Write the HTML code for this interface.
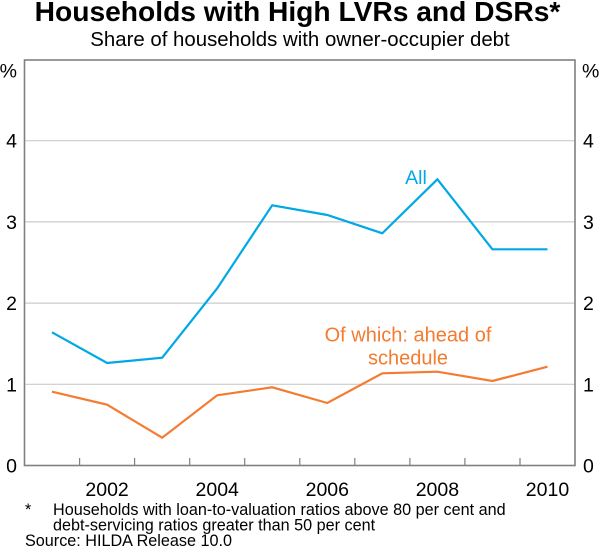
<!DOCTYPE html>
<html>
<head>
<meta charset="utf-8">
<style>
  html, body { margin: 0; padding: 0; background: #ffffff; }
  svg { display: block; }
  text { font-family: "Liberation Sans", Arial, sans-serif; fill: #000; }
</style>
</head>
<body>
<svg width="600" height="555" viewBox="0 0 600 555" xmlns="http://www.w3.org/2000/svg">
  <!-- Title -->
  <text x="297.5" y="21" font-size="28.2" font-weight="bold" text-anchor="middle">Households with High LVRs and DSRs*</text>
  <text x="300" y="46" font-size="20.4" text-anchor="middle">Share of households with owner-occupier debt</text>

  <!-- Gridlines -->
  <g stroke="#cccccc" stroke-width="1.2">
    <line x1="24.5" y1="384.3" x2="575" y2="384.3"/>
    <line x1="24.5" y1="303.1" x2="575" y2="303.1"/>
    <line x1="24.5" y1="221.9" x2="575" y2="221.9"/>
    <line x1="24.5" y1="140.7" x2="575" y2="140.7"/>
  </g>

  <!-- Ticks at year boundaries -->
  <g stroke="#808080" stroke-width="1.2">
    <line x1="79.6" y1="465.5" x2="79.6" y2="458"/>
    <line x1="134.6" y1="465.5" x2="134.6" y2="458"/>
    <line x1="189.7" y1="465.5" x2="189.7" y2="458"/>
    <line x1="244.7" y1="465.5" x2="244.7" y2="458"/>
    <line x1="299.8" y1="465.5" x2="299.8" y2="458"/>
    <line x1="354.8" y1="465.5" x2="354.8" y2="458"/>
    <line x1="409.9" y1="465.5" x2="409.9" y2="458"/>
    <line x1="464.9" y1="465.5" x2="464.9" y2="458"/>
    <line x1="520.0" y1="465.5" x2="520.0" y2="458"/>
  </g>

  <!-- Plot frame -->
  <rect x="24.5" y="60" width="550.5" height="405.5" fill="none" stroke="#808080" stroke-width="1.6"/>

  <!-- Series: All -->
  <polyline fill="none" stroke="#00a8e6" stroke-width="2.2" stroke-linejoin="miter"
    points="52.0,332.3 107.1,363 162.2,357.7 217.2,288.3 272.2,205.3 327.3,215 382.3,233.3 437.4,179.3 492.4,249.3 547.5,249.3"/>

  <!-- Series: Of which ahead of schedule -->
  <polyline fill="none" stroke="#f47b2f" stroke-width="2.2" stroke-linejoin="miter"
    points="52.0,391.7 107.1,404.7 162.2,437.7 217.2,395.3 272.2,387.3 327.3,403 382.3,373.3 437.4,371.7 492.4,381 547.5,366.7"/>

  <!-- Series labels -->
  <text x="416" y="184" font-size="19.5" text-anchor="middle" style="fill:#00a8e6">All</text>
  <text x="408" y="341.7" font-size="20" text-anchor="middle" style="fill:#f47b2f">Of which: ahead of</text>
  <text x="408" y="364.3" font-size="20" text-anchor="middle" style="fill:#f47b2f">schedule</text>

  <!-- Left axis labels -->
  <g font-size="19.5" text-anchor="end">
    <text x="17" y="77.5">%</text>
    <text x="17" y="147.7">4</text>
    <text x="17" y="228.9">3</text>
    <text x="17" y="310.1">2</text>
    <text x="17" y="391.3">1</text>
    <text x="17" y="472.5">0</text>
  </g>

  <!-- Right axis labels -->
  <g font-size="19.5" text-anchor="start">
    <text x="582" y="77.5">%</text>
    <text x="583" y="147.7">4</text>
    <text x="583" y="228.9">3</text>
    <text x="583" y="310.1">2</text>
    <text x="583" y="391.3">1</text>
    <text x="583" y="472.5">0</text>
  </g>

  <!-- X axis labels -->
  <g font-size="19.5" text-anchor="middle">
    <text x="107.1" y="496">2002</text>
    <text x="217.2" y="496">2004</text>
    <text x="327.3" y="496">2006</text>
    <text x="437.4" y="496">2008</text>
    <text x="547.5" y="496">2010</text>
  </g>

  <!-- Footnotes -->
  <g font-size="16.2">
    <text x="25" y="515">*</text>
    <text x="53" y="515">Households with loan-to-valuation ratios above 80 per cent and</text>
    <text x="53" y="530.5">debt-servicing ratios greater than 50 per cent</text>
    <text x="25" y="546">Source: HILDA Release 10.0</text>
  </g>
</svg>
</body>
</html>
